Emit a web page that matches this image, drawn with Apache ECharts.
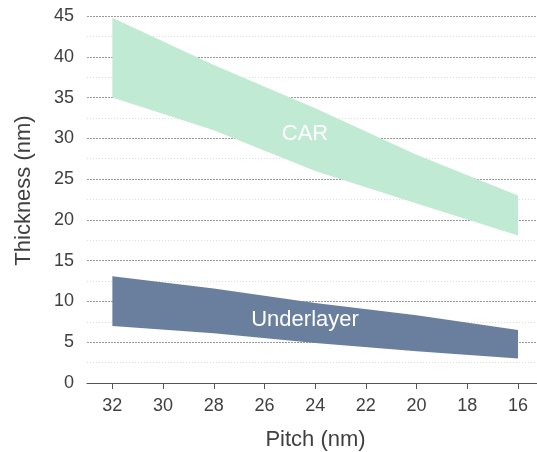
<!DOCTYPE html>
<html>
<head>
<meta charset="utf-8">
<script src="https://cdn.jsdelivr.net/npm/echarts@6/dist/echarts.min.js"></script>
<style>
  html, body { margin: 0; padding: 0; background: #fff; }
  #chart { width: 537px; height: 452px; }
</style>
</head>
<body>
<div id="chart"></div>
<script>
// Data
const pitch = [32, 28, 24, 20, 16];
const carUpper = [44.8, 39.0, 33.7, 28.0, 23.0];
const carLower = [35.0, 31.0, 26.0, 22.0, 18.1];
const ulUpper = [13.1, 11.6, 9.8, 8.3, 6.5];
const ulLower = [7.0, 6.1, 4.9, 3.9, 3.0];
const pitchTicks = [32, 30, 28, 26, 24, 22, 20, 18, 16];

const FONT = '"Liberation Sans", Arial, sans-serif';
const TEXT = '#404040';

// polygon band between two lines, with a text label inside
function band(name, upper, lower, color, labelAt) {
    return {
        type: 'custom',
        name: name,
        data: [0],
        silent: true,
        renderItem: function (params, api) {
            const pts = [];
            for (let i = 0; i < pitch.length; i++) pts.push(api.coord([pitch[i], upper[i]]));
            for (let i = pitch.length - 1; i >= 0; i--) pts.push(api.coord([pitch[i], lower[i]]));
            const lp = api.coord(labelAt);
            return {
                type: 'group',
                children: [
                    { type: 'polygon', shape: { points: pts }, style: { fill: color } },
                    {
                        type: 'text', x: lp[0], y: lp[1],
                        style: {
                            text: name, fill: '#fff', font: '22px ' + FONT,
                            align: 'center', verticalAlign: 'middle'
                        }
                    }
                ]
            };
        }
    };
}

const chart = echarts.init(document.getElementById('chart'));
chart.setOption({
    animation: false,
    grid: { left: 87, right: 0, top: 16, bottom: 69, outerBoundsMode: 'none' },
    xAxis: {
        type: 'value',
        inverse: true,
        min: 15.25,
        max: 33,
        name: 'Pitch (nm)',
        nameLocation: 'middle',
        nameGap: 46,
        nameTextStyle: { fontSize: 22, color: TEXT, fontFamily: FONT, padding: [0, 0, 0, 7] },
        axisLine: { lineStyle: { color: '#555', width: 1.2 } },
        axisTick: { show: true, length: 6, customValues: pitchTicks, lineStyle: { color: '#555' } },
        axisLabel: { customValues: pitchTicks, fontSize: 18, color: TEXT, fontFamily: FONT, margin: 14 },
        splitLine: { show: false }
    },
    yAxis: {
        type: 'value',
        min: 0,
        max: 45,
        interval: 5,
        name: 'Thickness (nm)',
        nameLocation: 'middle',
        nameGap: 52,
        nameTextStyle: { fontSize: 22, color: TEXT, fontFamily: FONT, padding: [0, 0, 0, 18] },
        axisLine: { show: false },
        axisTick: { show: false },
        axisLabel: { fontSize: 18, color: TEXT, fontFamily: FONT, margin: 13 },
        splitLine: { lineStyle: { color: '#999', type: [2, 1], width: 1 } },
        minorTick: { show: false, splitNumber: 2 },
        minorSplitLine: { show: true, lineStyle: { color: '#ddd', type: [1, 2], width: 1 } }
    },
    series: [
        band('CAR', carUpper, carLower, '#c0ead4', [24.4, 30.6]),
        band('Underlayer', ulUpper, ulLower, '#6a7f9e', [24.4, 7.7])
    ]
});
</script>
</body>
</html>
